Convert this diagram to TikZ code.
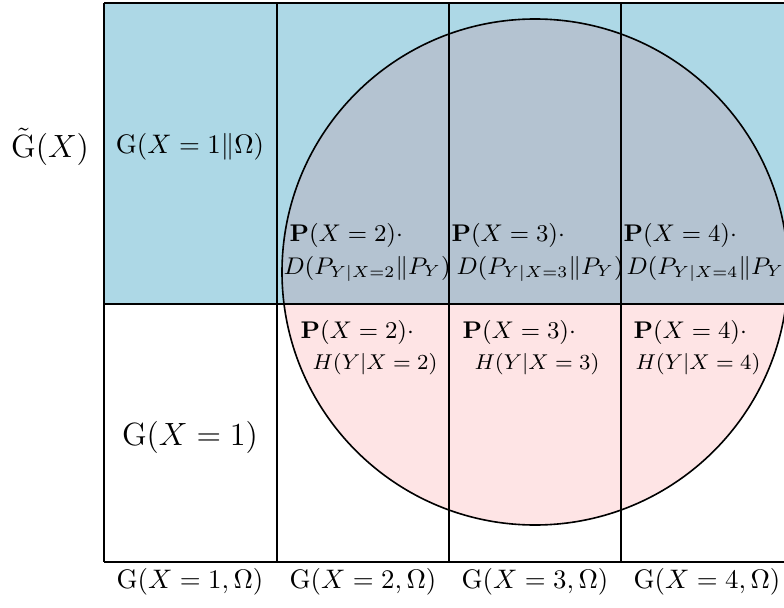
\documentclass[tikz,border=0pt]{standalone}
\usepackage{amsmath,amssymb}
\definecolor{topblue}{RGB}{173,216,230}
\definecolor{overlap}{RGB}{180,195,209}
\definecolor{lowpink}{RGB}{254,228,229}
\begin{document}
\begin{tikzpicture}[x=0.3731pt,y=-0.3731pt,
  gridline/.style={line width=0.6pt, black},
  lab/.style={inner sep=0pt},
  cell/.style={inner sep=0pt, anchor=base west, font=\footnotesize},
  pcell/.style={inner sep=0pt, anchor=base west, font=\fontsize{8.6pt}{10pt}\selectfont},
  dcell/.style={inner sep=0pt, anchor=base west, font=\small}]
\useasboundingbox (0,0) rectangle (784,607);
\clip (0,0) rectangle (784,607);
% regions
\fill[topblue] (104,3) rectangle (800,304);
\begin{scope}
  \clip (0,0) rectangle (800,304);
  \fill[overlap] (535,272) circle[radius=253];
\end{scope}
\begin{scope}
  \clip (0,304) rectangle (800,607);
  \fill[lowpink] (535,272) circle[radius=253];
\end{scope}
% grid
\draw[gridline] (104,3) -- (800,3);
\draw[gridline] (104,304) -- (800,304);
\draw[gridline] (104,562) -- (800,562);
\foreach \x in {104,277,449,621,793}
  \draw[gridline] (\x,3) -- (\x,562);
\draw[gridline] (535,272) circle[radius=253];
% labels
\node[lab, font=\large] (gt) at (50,147) {$\tilde{\mathrm{G}}(X)$};
\node[lab] (g1o) at (190,147) {$\mathrm{G}(X=1\|\Omega)$};
\node[lab, font=\large] (g1) at (190,437) {$\mathrm{G}(X=1)$};
\node[lab] (b1) at (190,582) {$\mathrm{G}(X=1,\Omega)$};
\node[lab] (b2) at (363,582) {$\mathrm{G}(X=2,\Omega)$};
\node[lab] (b3) at (535,582) {$\mathrm{G}(X=3,\Omega)$};
\node[lab] (b4) at (707,582) {$\mathrm{G}(X=4,\Omega)$};
% D cells
\node[pcell] (dp2) at (289,241) {$\mathbf{P}(X=2)\cdot$};
\node[dcell] (dd2) at (283,274) {$D(P_{Y|X=2}\|P_Y)$};
\node[pcell] (dp3) at (451,241) {$\mathbf{P}(X=3)\cdot$};
\node[dcell] (dd3) at (456,274) {$D(P_{Y|X=3}\|P_Y)$};
\node[pcell] (dp4) at (623,241) {$\mathbf{P}(X=4)\cdot$};
\node[dcell] (dd4) at (626,274) {$D(P_{Y|X=4}\|P_Y)$};
% H cells
\node[pcell] (hp2) at (300,338) {$\mathbf{P}(X=2)\cdot$};
\node[cell] (hh2) at (312,369) {$H(Y|X=2)$};
\node[pcell] (hp3) at (462,338) {$\mathbf{P}(X=3)\cdot$};
\node[cell] (hh3) at (474,369) {$H(Y|X=3)$};
\node[pcell] (hp4) at (633,338) {$\mathbf{P}(X=4)\cdot$};
\node[cell] (hh4) at (635,369) {$H(Y|X=4)$};
\end{tikzpicture}
\end{document}
